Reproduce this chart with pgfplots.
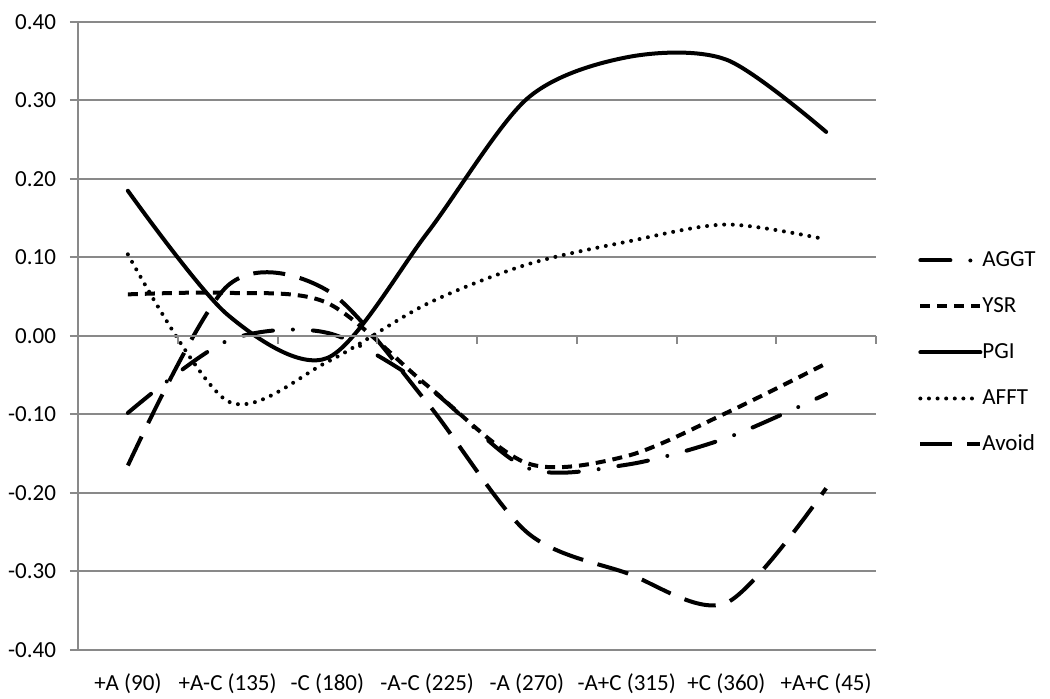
\documentclass[border=0pt]{standalone}
\usepackage{pgfplots}
\usepackage{pgfplotstable}
\pgfplotsset{compat=1.18}
\usepackage{fontspec}
\setmainfont{Carlito}
\definecolor{gridgray}{RGB}{137,137,137}
\pgfplotstableread{
x AGGT YSR PGI AFFT Avoid
0 -0.098 0.053 0.185 0.104 -0.165
1 -0.006 0.055 0.027 -0.083 0.064
2 0.004 0.042 -0.028 -0.033 0.058
3 -0.065 -0.063 0.131 0.041 -0.085
4 -0.168 -0.162 0.302 0.091 -0.250
5 -0.164 -0.153 0.355 0.120 -0.302
6 -0.130 -0.098 0.352 0.142 -0.340
7 -0.074 -0.035 0.260 0.123 -0.194
}\datatable
\begin{document}
\begin{tikzpicture}
\begin{axis}[name=main,
  scale only axis, width=399pt, height=314pt,
  xmin=-0.5, xmax=7.5, ymin=-0.4, ymax=0.4,
  axis y line*=left, axis x line*=bottom,
  x axis line style={draw=none},
  xtick={0,...,7},
  xticklabels={{+A (90)},{+A-C (135)},{-C (180)},{-A-C (225)},{-A (270)},{-A+C (315)},{+C (360)},{+A+C (45)}},
  major x tick style={draw=none},
  ytick={-0.4,-0.3,-0.2,-0.1,0,0.1,0.2,0.3,0.4},
  ymajorgrids, grid style={gridgray, line width=1pt},
  y axis line style={gridgray, line width=1.4pt},
  ytick style={gridgray, line width=1pt},
  ytick align=outside, major tick length=4pt,
  yticklabel style={/pgf/number format/fixed, /pgf/number format/fixed zerofill, /pgf/number format/precision=2, xshift=-3.5pt},
  xticklabel style={yshift=-8.5pt},
  /pgf/number format/assume math mode=true,
  tick label style={font=\fontsize{11.5}{13}\selectfont},
  legend style={draw=none, fill=none, inner sep=0pt, at={(axis description cs:1.0526,0.4737)}, anchor=west,
    font=\fontsize{11.5}{13}\selectfont, row sep=13pt,
    nodes={inner sep=0pt, text height=8pt, text depth=2pt, anchor=west}},
  legend cell align=left,
  legend image code/.code={\draw[#1] (0pt,0pt) -- (30pt,0pt);},
  every axis plot/.append style={black, line width=2pt, smooth, tension=0.5},
]
\addplot[dash pattern=on 15pt off 10pt on 0pt off 10pt, line cap=round] table[x=x,y=AGGT]{\datatable};
\addlegendentry{AGGT}
\addplot[dash pattern=on 5pt off 3.5pt, line cap=butt] table[x=x,y=YSR]{\datatable};
\addlegendentry{YSR}
\addplot[line cap=round] table[x=x,y=PGI]{\datatable};
\addlegendentry{PGI}
\addplot[dash pattern=on 0pt off 4.3pt, line cap=round] table[x=x,y=AFFT]{\datatable};
\addlegendentry{AFFT}
\addplot[dash pattern=on 16pt off 7.5pt, line cap=butt] table[x=x,y=Avoid]{\datatable};
\addlegendentry{Avoid}
\end{axis}
\begin{axis}[
  scale only axis, width=399pt, height=314pt,
  xmin=-0.5, xmax=7.5, ymin=-0.4, ymax=0.4,
  axis x line=middle, axis y line=none,
  x axis line style={gridgray, line width=1pt, -},
  xtick={-0.5,0.5,1.5,2.5,3.5,4.5,5.5,6.5,7.5},
  xticklabels={{},{},{},{},{},{},{},{},{}},
  xtick align=outside, major tick length=4pt,
  xtick style={gridgray, line width=1pt},
  ytick=\empty,
]
\end{axis}
\pgfresetboundingbox
\path (main.south west) ++(-39pt,-24.5pt) coordinate (bl);
\path (main.north east) ++(87pt,11pt) coordinate (tr);
\useasboundingbox (bl) rectangle (tr);
\end{tikzpicture}
\end{document}
